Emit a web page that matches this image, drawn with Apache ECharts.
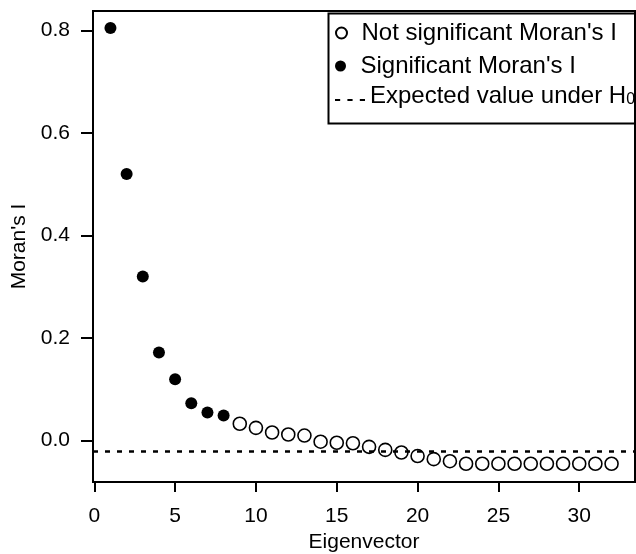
<!DOCTYPE html>
<html>
<head>
<meta charset="utf-8">
<script src="https://cdn.jsdelivr.net/npm/echarts@6/dist/echarts.min.js"></script>
<style>
  html, body { margin: 0; padding: 0; background: #fff; }
  #chart { width: 636px; height: 554px; }
</style>
</head>
<body>
<div id="chart"></div>
<script>
  // eigenvector index and its Moran's I
  const eigenvector = [1, 2, 3, 4, 5, 6, 7, 8, 9, 10, 11, 12, 13, 14, 15, 16,
    17, 18, 19, 20, 21, 22, 23, 24, 25, 26, 27, 28, 29, 30, 31, 32];
  const moransI = [0.805, 0.520, 0.320, 0.172, 0.120, 0.073, 0.055, 0.049,
    0.033, 0.025, 0.016, 0.012, 0.010, -0.002, -0.004, -0.005,
    -0.012, -0.018, -0.023, -0.030, -0.036, -0.040, -0.045, -0.045,
    -0.045, -0.045, -0.045, -0.045, -0.045, -0.045, -0.045, -0.045];
  const significant = [true, true, true, true, true, true, true, true,
    false, false, false, false, false, false, false, false,
    false, false, false, false, false, false, false, false,
    false, false, false, false, false, false, false, false];
  const expectedValue = -0.017; // E(I) under H0
  const xTicks = [0, 5, 10, 15, 20, 25, 30];
  const yTicks = [0.0, 0.2, 0.4, 0.6, 0.8];

  const FONT = "'Liberation Sans', Arial, sans-serif";
  const names = ["Not significant Moran's I", "Significant Moran's I", 'Expected value under H0'];

  const sigData = [];
  const nonSigData = [];
  eigenvector.forEach((e, i) => {
    (significant[i] ? sigData : nonSigData).push([e, moransI[i]]);
  });

  const legendBase = {
    orient: 'vertical',
    left: 330,
    itemWidth: 30,
    itemHeight: 11,
    itemGap: 0,
    selectedMode: false,
    textStyle: { fontFamily: FONT, fontSize: 24, color: '#000', padding: [0, 0, 8, 0] }
  };

  const chart = echarts.init(document.getElementById('chart'));
  chart.setOption({
    animation: false,
    backgroundColor: '#fff',
    grid: {
      left: 93, right: 1, top: 11, bottom: 72,
      outerBoundsMode: 'none',
      show: true, borderColor: '#000', borderWidth: 2
    },
    xAxis: {
      type: 'value',
      min: -0.08, max: 33.45,
      name: 'Eigenvector',
      nameLocation: 'middle',
      nameGap: 44,
      nameTextStyle: { fontFamily: FONT, fontSize: 21, color: '#000' },
      axisLine: { show: true, onZero: false, lineStyle: { color: '#000', width: 2 } },
      splitLine: { show: false },
      axisTick: { show: true, inside: false, length: 10, customValues: xTicks,
        lineStyle: { color: '#000', width: 2 } },
      axisLabel: { customValues: xTicks, margin: 24, fontFamily: FONT, fontSize: 21, color: '#000' }
    },
    yAxis: {
      type: 'value',
      min: -0.0806, max: 0.838,
      name: "Moran's I",
      nameLocation: 'middle',
      nameGap: 57,
      nameTextStyle: { fontFamily: FONT, fontSize: 21, color: '#000' },
      axisLine: { show: true, onZero: false, lineStyle: { color: '#000', width: 2 } },
      splitLine: { show: false },
      axisTick: { show: true, inside: false, length: 12, customValues: yTicks,
        lineStyle: { color: '#000', width: 2 } },
      axisLabel: { customValues: yTicks, margin: 23, fontFamily: FONT, fontSize: 21, color: '#000',
        formatter: v => v.toFixed(1) }
    },
    legend: [
      Object.assign({}, legendBase, { top: 16, data: [names[0]] }),
      Object.assign({}, legendBase, { top: 49, data: [names[1]] }),
      Object.assign({}, legendBase, {
        top: 79,
        data: [{ name: names[2], icon: 'path://M0,0h5v2h-5zM12,0h5v2h-5zM24,0h5v2h-5z' }],
        formatter: () => 'Expected value under H{sub|0}',
        textStyle: Object.assign({}, legendBase.textStyle, {
          rich: { sub: { fontFamily: FONT, fontSize: 16, color: '#000', padding: [8, 0, 0, 0] } }
        })
      })
    ],
    graphic: [{
      type: 'rect', left: 326, top: 11, z: 100, silent: true,
      shape: { width: 309, height: 110 },
      style: { fill: 'none', stroke: '#000', lineWidth: 2 }
    }],
    series: [
      {
        name: names[0],
        type: 'scatter',
        symbol: 'circle',
        symbolSize: 13,
        itemStyle: { color: 'transparent', borderColor: '#000', borderWidth: 1.6, opacity: 1 },
        data: nonSigData,
        z: 3
      },
      {
        name: names[1],
        type: 'scatter',
        symbol: 'circle',
        symbolSize: 12,
        itemStyle: { color: '#000', opacity: 1 },
        data: sigData,
        z: 3
      },
      {
        name: names[2],
        type: 'line',
        data: [],
        symbol: 'none',
        itemStyle: { color: '#000' },
        lineStyle: { color: '#000', width: 2.5, type: [5, 7] },
        markLine: {
          silent: true,
          symbol: 'none',
          label: { show: false },
          lineStyle: { color: '#000', width: 2.5, type: [5, 7] },
          data: [{ yAxis: expectedValue }]
        }
      }
    ]
  });
</script>
</body>
</html>
